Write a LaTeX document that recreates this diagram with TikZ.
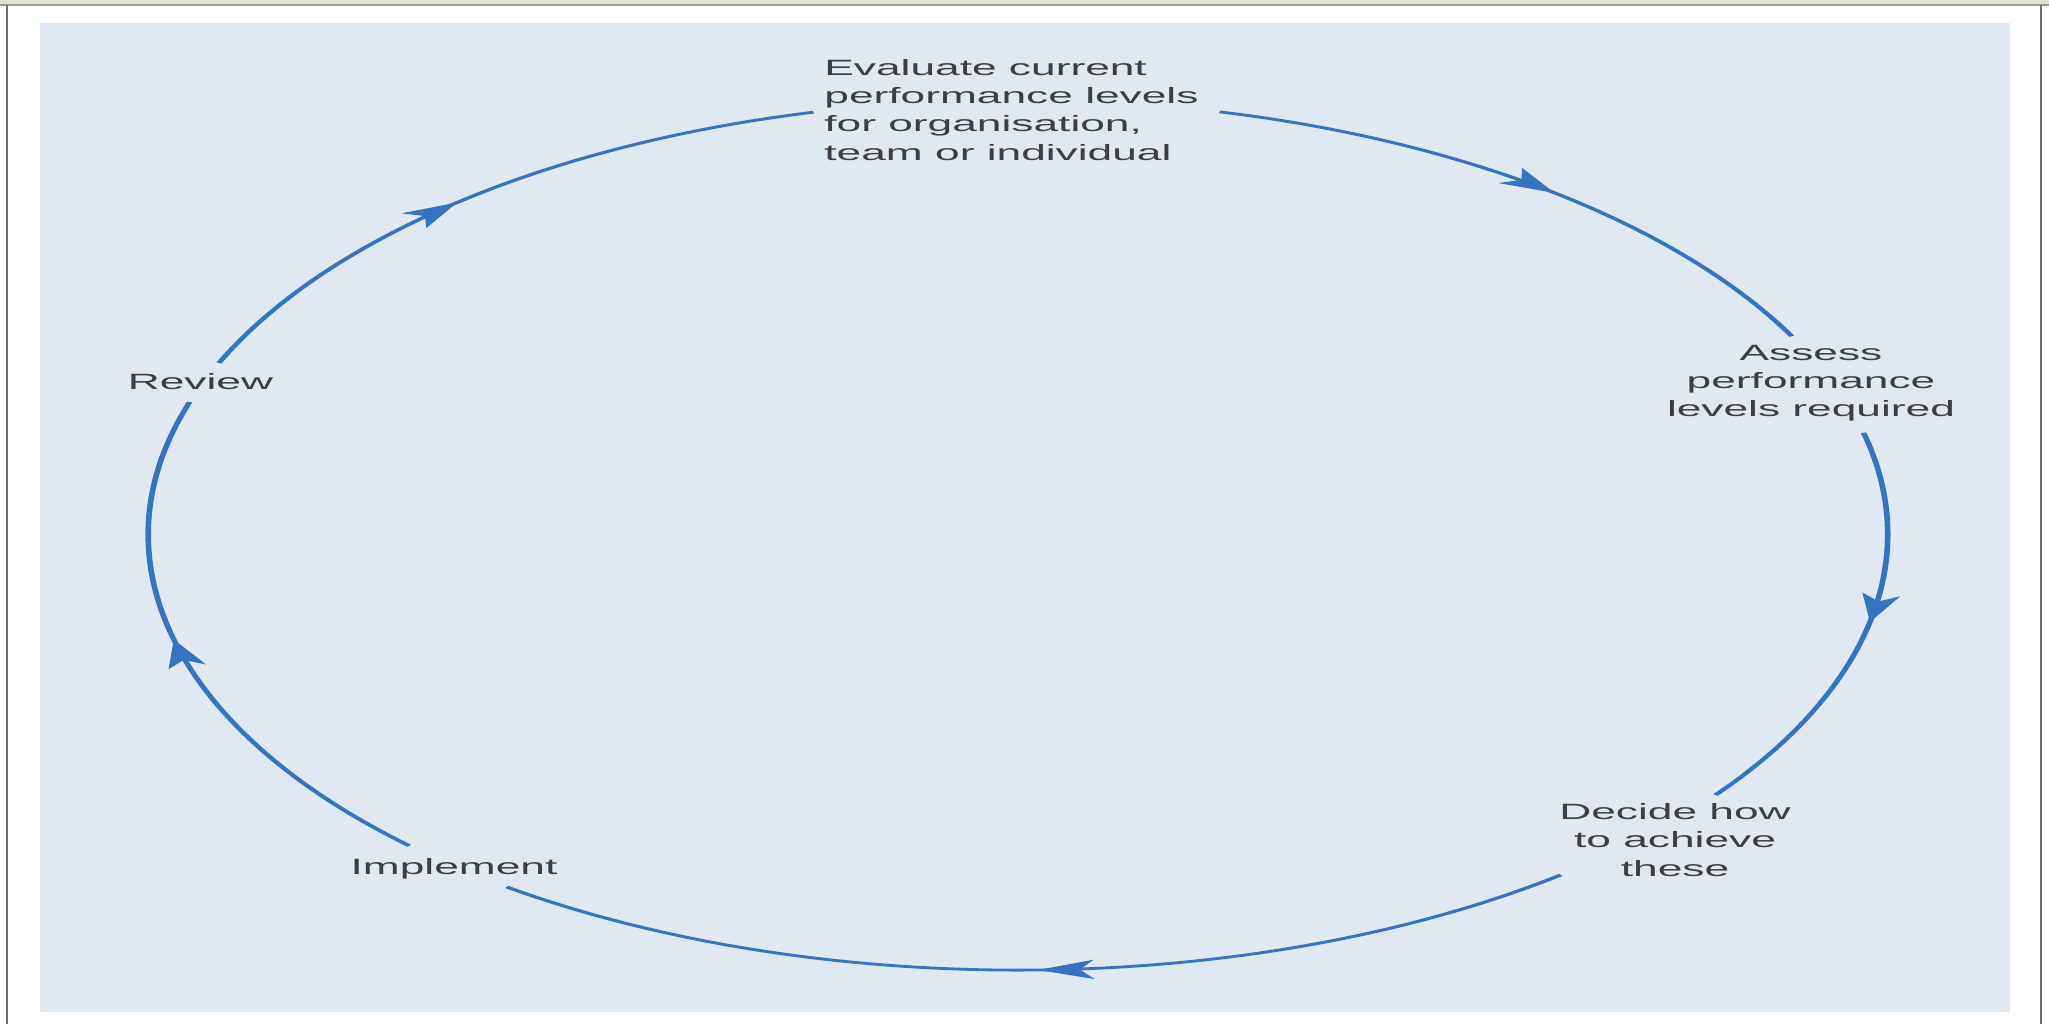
\documentclass[tikz,border=0pt]{standalone}
\usepackage{fontspec}
\setmainfont{Liberation Sans}
\usetikzlibrary{arrows.meta,decorations.markings}
\definecolor{panelblue}{RGB}{224,232,241}
\definecolor{cycleblue}{RGB}{54,116,191}
\definecolor{labelgray}{RGB}{62,62,66}
\definecolor{framegray}{RGB}{110,110,110}
\definecolor{bandbeige}{RGB}{230,226,217}
\tikzset{lbl/.style={text=labelgray,font=\fontsize{6.3}{8}\selectfont,inner sep=0pt,align=center},
  cyc/.style={cycleblue,line width=0.8pt,postaction={decorate},
    decoration={markings,mark=at position 0.5 with {\arrow{Stealth[length=2.8mm,width=1.9mm,inset=0.7mm]}}}}}
\begin{document}
\begin{tikzpicture}
\useasboundingbox (0,0) rectangle (20.49,10.24);
\fill[white] (0,0) rectangle (20.49,10.24);
\fill[bandbeige] (0,10.19) rectangle (20.49,10.24);
\draw[framegray!70,line width=0.5pt] (0,10.19) -- (20.49,10.19);
\draw[framegray,line width=0.6pt] (0.07,0) -- (0.07,10.19) (20.41,0) -- (20.41,10.19);
\fill[panelblue] (0.40,0.12) rectangle (20.10,10.01);
% the whole cycle is stretched sideways
\begin{scope}[transform canvas={xscale=2}]
\coordinate (o) at (5.09,4.89);
\foreach \n/\a in {e1/76.6,a0/27.2,a1/13.6,d0/-36.7,d1/-51.4,i0/-126,i1/-134.4,r0/162.2,r1/156.7,e0/103.6}
  \path (o) ++(\a:4.35) coordinate (\n);
\node[lbl,align=left,anchor=west] (eval) at (4.115,9.14) {Evaluate current\\performance levels\\for organisation,\\team or individual};
\node[lbl] (assess) at (9.055,6.405) {Assess\\performance\\levels required};
\node[lbl] (decide) at (8.375,1.84) {Decide how\\to achieve\\these};
\node[lbl] (implement) at (2.27,1.55) {Implement};
\node[lbl] (review) at (1.0025,6.42) {Review};
\draw[cyc] (e1) to[bend left=24.7,looseness=0.89] (a0);
\draw[cyc] (a1) to[bend left=25.15,looseness=0.89] (d0);
\draw[cyc] (d1) to[bend left=37.3,looseness=0.95] (i0);
\draw[cyc] (i1) to[bend left=31.7,looseness=0.92] (r0);
\draw[cyc] (r1) to[bend left=26.55,looseness=0.9] (e0);
\end{scope}
\end{tikzpicture}
\end{document}
